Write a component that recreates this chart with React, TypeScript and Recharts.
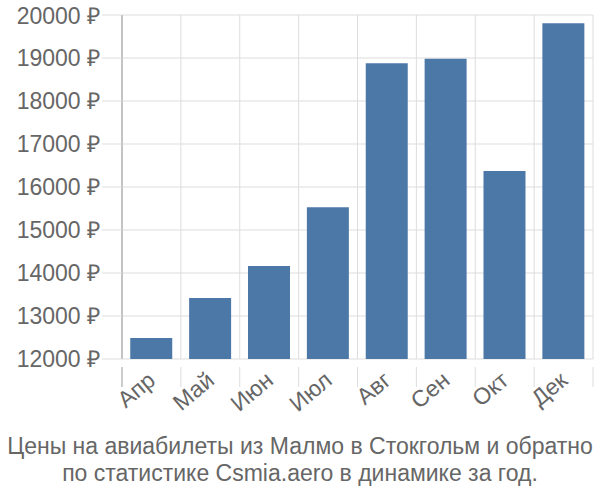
import React from "react";
import { BarChart, Bar, XAxis, YAxis, CartesianGrid } from "recharts";

const months = ["Апр", "Май", "Июн", "Июл", "Авг", "Сен", "Окт", "Дек"];
const prices = [12490, 13420, 14160, 15530, 18880, 18980, 16370, 19810];
const yTicks = [12000, 13000, 14000, 15000, 16000, 17000, 18000, 19000, 20000];
const titleLines = [
  "Цены на авиабилеты из Малмо в Стокгольм и обратно",
  "по статистике Csmia.aero в динамике за год.",
];

const data = months.map((m, i) => ({ month: m, price: prices[i] }));

const FONT = "'Liberation Sans', Arial, sans-serif";

// category boundaries instead of centers
const boundaryLines = ({ offset }: any) =>
  Array.from({ length: months.length + 1 }, (_, i) => offset.left + (i * offset.width) / months.length);

function MonthTick(props: any) {
  const { x, y, payload, index, visibleTicksCount } = props;
  const half = payload.offset ?? 0;
  const last = index === (visibleTicksCount ?? months.length) - 1;
  return (
    <g>
      <line x1={x - half} x2={x - half} y1={y} y2={y + 20} stroke={index === 0 ? "#999" : "#ddd"} />
      {last && <line x1={x + half} x2={x + half} y1={y} y2={y + 20} stroke="#ddd" />}
      <g transform={`translate(${x - 1},${y + 8})`}>
        <text textAnchor="end" transform="rotate(-40)" fill="#666" fontSize={23} fontFamily={FONT} dy={10}>
          {payload.value}
        </text>
      </g>
    </g>
  );
}

export default function App() {
  return (
    <div style={{ position: "absolute", left: 0, top: 0, width: 600, height: 500, background: "#fff" }}>
      <BarChart
        width={600}
        height={500}
        data={data}
        margin={{ top: 15, right: 7, left: 0, bottom: 0 }}
        barCategoryGap="14%"
      >
        <CartesianGrid stroke="#ddd" strokeWidth={1} verticalCoordinatesGenerator={boundaryLines} />
        <XAxis
          dataKey="month"
          tick={<MonthTick />}
          tickLine={false}
          axisLine={false}
          height={141}
          interval={0}
        />
        <YAxis
          domain={[12000, 20000]}
          ticks={yTicks}
          width={122}
          tickSize={20}
          tickMargin={2}
          tickLine={{ stroke: "#ddd" }}
          axisLine={{ stroke: "#999" }}
          tickFormatter={(v: number) => `${v} ₽`}
          tick={{ fill: "#666", fontSize: 23, fontFamily: FONT }}
          allowDataOverflow
        />
        <Bar dataKey="price" fill="#4c78a8" isAnimationActive={false} />
      </BarChart>
      {titleLines.map((t, i) => (
        <div
          key={i}
          style={{
            position: "absolute",
            left: 0,
            width: 600,
            top: 433 + i * 27,
            textAlign: "center",
            fontFamily: FONT,
            fontSize: 23,
            color: "#666",
            whiteSpace: "nowrap",
          }}
        >
          {t}
        </div>
      ))}
    </div>
  );
}
